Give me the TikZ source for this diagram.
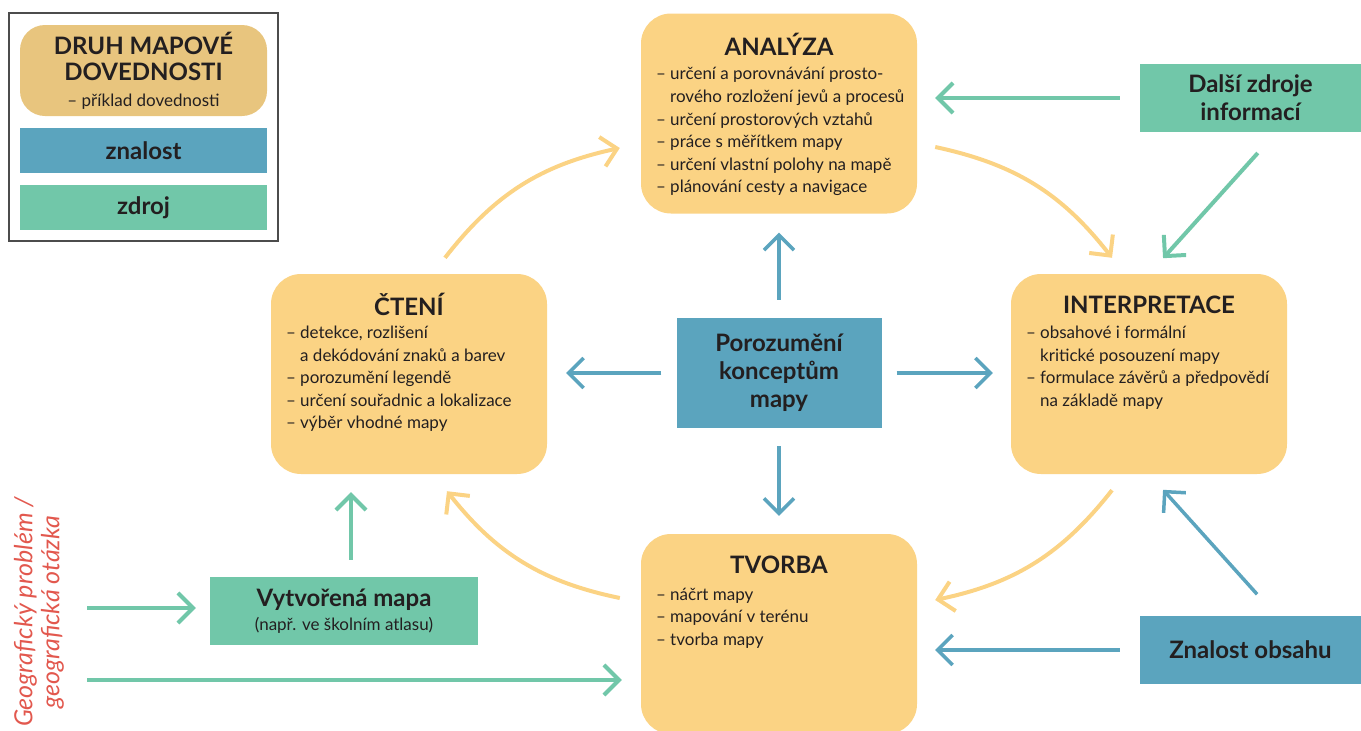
\documentclass[tikz,border=0pt]{standalone}
\usepackage{fontspec}
\setmainfont{Lato}
\usetikzlibrary{arrows.meta,positioning}
\definecolor{skillyellow}{HTML}{FBD384}
\definecolor{legendtan}{HTML}{E8C57E}
\definecolor{knowblue}{HTML}{5BA4BE}
\definecolor{srcteal}{HTML}{71C7A9}
\definecolor{probred}{HTML}{E2584E}
\definecolor{ink}{HTML}{231F20}
\begin{document}
\begin{tikzpicture}[x=1pt, y=-1pt, every node/.style={text=ink, inner sep=0pt},
    skill/.style={fill=skillyellow, rounded corners=30pt, minimum width=276pt, minimum height=200pt},
    skilltitle/.style={font=\bfseries\fontsize{24}{28}\selectfont},
    items/.style={anchor=north west, align=left, font=\fontsize{17}{22.6}\selectfont},
    knowbox/.style={fill=knowblue, align=center, font=\bfseries\fontsize{24}{28}\selectfont},
    srcbox/.style={fill=srcteal, align=center, font=\bfseries\fontsize{24}{28}\selectfont},
    yarrow/.style={draw=skillyellow, line width=4pt, -{Straight Barb[length=15pt,width=30pt]}},
    tarrow/.style={draw=srcteal, line width=4pt, -{Straight Barb[length=15pt,width=30pt]}},
    barrow/.style={draw=knowblue, line width=3.5pt, -{Straight Barb[length=15pt,width=30pt]}}]

  \useasboundingbox (0,0) rectangle (1361,731);

  \node[draw=black!70, line width=1.5pt, minimum width=269pt, minimum height=228pt] (legend) at (143.5,127) {};
  \node[fill=legendtan, rounded corners=25pt, minimum width=247pt, minimum height=91pt, align=center,
    font=\bfseries\fontsize{24}{26}\selectfont] (legskill) at (143.5,70.5)
    {DRUH MAPOVÉ\\DOVEDNOSTI\\{\mdseries\fontsize{17}{18}\selectfont – příklad dovednosti}};
  \node[knowbox, minimum width=247pt, minimum height=45pt] (legknow) at (143.5,150.5) {znalost};
  \node[srcbox, minimum width=247pt, minimum height=45pt] (legsrc) at (143.5,207.5) {zdroj};

  \node[skill] (analyza) at (779,113.5) {};
  \node[skilltitle] (analyzatitle) at ([yshift=-31pt]analyza.north) {ANALÝZA};
  \node[items] (analyzaitems) at ([xshift=15pt,yshift=-54pt]analyza.north west)
    {– určení a porovnávání prosto-\\\phantom{– }rového rozložení jevů a procesů\\– určení prostorových vztahů\\– práce s měřítkem mapy\\– určení vlastní polohy na mapě\\– plánování cesty a navigace};

  \node[skill] (cteni) at (409,374) {};
  \node[skilltitle] (ctenititle) at ([yshift=-31pt]cteni.north) {ČTENÍ};
  \node[items] (ctenitems) at ([xshift=15pt,yshift=-52pt]cteni.north west)
    {– detekce, rozlišení\\\phantom{– }a dekódování znaků a barev\\– porozumění legendě\\– určení souřadnic a lokalizace\\– výběr vhodné mapy};

  \node[skill] (interp) at (1149,374) {};
  \node[skilltitle] (interptitle) at ([yshift=-31pt]interp.north) {INTERPRETACE};
  \node[items] (interpitems) at ([xshift=15pt,yshift=-52pt]interp.north west)
    {– obsahové i formální\\\phantom{– }kritické posouzení mapy\\– formulace závěrů a předpovědí\\\phantom{– }na základě mapy};

  \node[skill] (tvorba) at (779,634) {};
  \node[skilltitle] (tvorbatitle) at ([yshift=-31pt]tvorba.north) {TVORBA};
  \node[items] (tvorbaitems) at ([xshift=15pt,yshift=-54pt]tvorba.north west)
    {– náčrt mapy\\– mapování v terénu\\– tvorba mapy};

  \node[knowbox, minimum width=205pt, minimum height=110pt] (poroz) at (779,373) {Porozumění\\konceptům\\mapy};
  \node[srcbox, minimum width=221pt, minimum height=68pt] (dalsi) at (1250.5,98) {Další zdroje\\informací};
  \node[knowbox, minimum width=221pt, minimum height=68pt] (obsah) at (1250.5,650) {Znalost obsahu};
  \node[srcbox, minimum width=268pt, minimum height=68pt] (mapa) at (344,611)
    {Vytvořená mapa\\[-4pt]{\mdseries\fontsize{17}{18}\selectfont (např. ve školním atlasu)}};

  \node[rotate=90, text=probred, align=center, font=\itshape\fontsize{25}{27}\selectfont] (problem) at (39,612)
    {Geografický problém /\\geografická otázka};

  \coordinate (probtop) at (87,608);
  \coordinate (probbot) at (87,680);

  \draw[barrow, shorten <=18pt, shorten >=19pt] (poroz.north) -- (analyza.south);
  \draw[barrow, shorten <=18pt, shorten >=18pt] (poroz.south) -- (tvorba.north);
  \draw[barrow, shorten <=15pt, shorten >=19pt] (poroz.west) -- (cteni.east |- poroz.west);
  \draw[barrow, shorten <=15pt, shorten >=18pt] (poroz.east) -- (interp.west |- poroz.east);
  \draw[barrow, shorten <=20pt, shorten >=18pt] (obsah.west) -- (obsah.west -| tvorba.east);
  \draw[barrow, shorten <=29pt, shorten >=21pt] ([xshift=26pt]obsah.north) -- (interp.south);

  \draw[tarrow, shorten <=20pt, shorten >=18pt] (dalsi.west) -- (dalsi.west -| analyza.east);
  \draw[tarrow, shorten <=28pt, shorten >=21pt] ([xshift=26pt]dalsi.south) -- (interp.north);
  \draw[tarrow, shorten >=14pt] (probtop) -- (probtop -| mapa.west);
  \draw[tarrow, shorten >=19pt] (probbot) -- (probbot -| tvorba.west);
  \draw[tarrow, shorten <=17pt, shorten >=18pt] ([xshift=7pt]mapa.north) -- ([xshift=7pt]mapa.north |- cteni.south);

  \draw[yarrow] ([xshift=36pt,yshift=16pt]cteni.north) to[bend left=20] ([xshift=-21pt,yshift=-34.5pt]analyza.west);
  \draw[yarrow] ([xshift=18pt,yshift=-33.5pt]analyza.east) to[bend left=20] ([xshift=-37pt,yshift=16pt]interp.north);
  \draw[yarrow] ([xshift=-37pt,yshift=-16pt]interp.south) to[bend left=20] ([xshift=18pt,yshift=34pt]tvorba.east);
  \draw[yarrow] ([xshift=-21pt,yshift=36pt]tvorba.west) to[bend left=20] ([xshift=38pt,yshift=-17pt]cteni.south);

\end{tikzpicture}
\end{document}
